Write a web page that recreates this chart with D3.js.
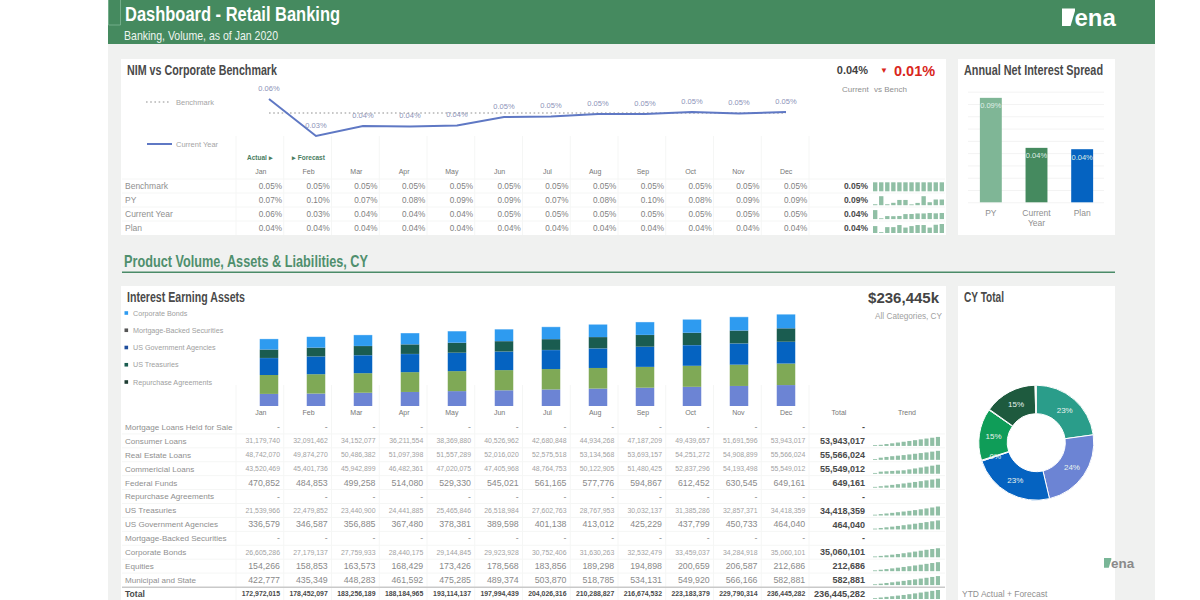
<!DOCTYPE html>
<html>
<head>
<meta charset="utf-8">
<script src="https://cdn.jsdelivr.net/npm/d3@7"></script>
<style>
  body { margin: 0; background: #fff; }
  text { font-family: "Liberation Sans", Arial, sans-serif; }
  .title { font-family: "Liberation Sans Narrow", "Liberation Sans", sans-serif; font-weight: 700; }
</style>
</head>
<body>
<div id="showBox"></div>
<script>
const months = ["Jan", "Feb", "Mar", "Apr", "May", "Jun", "Jul", "Aug", "Sep", "Oct", "Nov", "Dec"]

// NIM table, in percent
const benchmark = [0.05, 0.05, 0.05, 0.05, 0.05, 0.05, 0.05, 0.05, 0.05, 0.05, 0.05, 0.05]
const priorYear = [0.0705, 0.0985, 0.0705, 0.0755, 0.0855, 0.0855, 0.07, 0.0752, 0.0985, 0.0775, 0.087, 0.087]
const currentYear = [0.0608, 0.0323, 0.04, 0.0396, 0.0404, 0.0469, 0.0473, 0.0492, 0.0492, 0.0508, 0.0496, 0.0508]
const plan = [0.0421, 0.038, 0.0414, 0.0414, 0.0428, 0.0411, 0.0421, 0.0428, 0.0428, 0.0411, 0.043, 0.0435]
const nimLabels = ["Benchmark", "PY", "Current Year", "Plan"]
const nimTotals = [0.05, 0.09, 0.04, 0.04]

// annual spread
const spreadCategories = ["PY", "Current Year", "Plan"]
const spreadValues = [0.085, 0.0443, 0.0432]
const spreadLabels = ["0.09%", "0.04%", "0.04%"]
const spreadColors = ["#7fb696", "#458a5f", "#0563c1"]

// asset table
const mortgageHeld = [0, 0, 0, 0, 0, 0, 0, 0, 0, 0, 0, 0]
const consumerLoans = [31179740, 32091462, 34152077, 36211554, 38369880, 40526962, 42680848, 44934268, 47187209, 49439657, 51691596, 53943017]
const realEstateLoans = [48742070, 49874270, 50486382, 51097398, 51557289, 52016020, 52575518, 53134568, 53693157, 54251272, 54908899, 55566024]
const commercialLoans = [43520469, 45401736, 45942899, 46482361, 47020075, 47405968, 48764753, 50122905, 51480425, 52837296, 54193498, 55549012]
const federalFunds = [470852, 484853, 499258, 514080, 529330, 545021, 561165, 577776, 594867, 612452, 630545, 649161]
const repurchase = [0, 0, 0, 0, 0, 0, 0, 0, 0, 0, 0, 0]
const usTreasuries = [21539966, 22479852, 23440900, 24441885, 25465846, 26518984, 27602763, 28767953, 30032137, 31385286, 32857371, 34418359]
const usGovAgencies = [336579, 346587, 356885, 367480, 378381, 389598, 401138, 413012, 425229, 437799, 450733, 464040]
const mortgageBacked = [0, 0, 0, 0, 0, 0, 0, 0, 0, 0, 0, 0]
const corporateBonds = [26605286, 27179137, 27759933, 28440175, 29144845, 29923928, 30752406, 31630263, 32532479, 33459037, 34284918, 35060101]
const equities = [154266, 158853, 163573, 168429, 173426, 178568, 183856, 189298, 194898, 200659, 206587, 212686]
const municipal = [422777, 435349, 448283, 461592, 475285, 489374, 503870, 518785, 534131, 549920, 566166, 582881]
const totalRow = [172972015, 178452097, 183256189, 188184965, 193114137, 197994439, 204026316, 210288827, 216674532, 223183379, 229790314, 236445282]

const assetNames = ["Mortgage Loans Held for Sale", "Consumer Loans", "Real Estate Loans", "Commericial Loans", "Federal Funds", "Repurchase Agreements", "US Treasuries", "US Government Agencies", "Mortgage-Backed Securities", "Corporate Bonds", "Equities", "Municipal and State"]
const assetRows = [mortgageHeld, consumerLoans, realEstateLoans, commercialLoans, federalFunds, repurchase, usTreasuries, usGovAgencies, mortgageBacked, corporateBonds, equities, municipal]
const stackColors = ["#6c84d4", "#6c84d4", "#7fa956", "#0563c1", "#0563c1", "#1e3d33", "#1a5c50", "#1f4e9c", "#555555", "#2e9bf0", "#2e9bf0", "#2e9bf0"]
const donutColors = ["#6c84d4", "#2a9d8a", "#6c84d4", "#0563c1", "#0563c1", "#0f9d58", "#0f9d58", "#0f9d58", "#1e5a3e", "#1e5a3e", "#1e5a3e", "#1e5a3e"]

const legendNames = ["Corporate Bonds", "Mortgage-Backed Securities", "US Government Agencies", "US Treasuries", "Repurchase Agreements"]
const legendColors = ["#2e9bf0", "#555555", "#1f4e9c", "#1a5c50", "#1e3d33"]

const grey = "#8f8f8f"
const sparkColor = "#90bfa5"
const pct = v => d3.format(".2f")(v) + "%"
const num = d3.format(",d")

const svg = d3.select("#showBox").append("svg").attr("width", 1200).attr("height", 600).style("display", "block")

function rect(x, y, w, h, fill) {
    return svg.append("rect").attr("x", x).attr("y", y).attr("width", w).attr("height", h).attr("fill", fill)
}

function title(str, x, y, size, width, fill) {
    return svg.append("text").attr("class", "title").attr("x", x).attr("y", y).attr("dy", "0.35em")
        .attr("font-size", size).attr("fill", fill).attr("textLength", width).attr("lengthAdjust", "spacingAndGlyphs").text(str)
}

function label(str, x, y, size, fill, anchor = "start", weight = 400) {
    return svg.append("text").attr("x", x).attr("y", y).attr("dy", "0.35em").attr("font-size", size)
        .attr("fill", fill).attr("text-anchor", anchor).attr("font-weight", weight).text(str)
}

// page frame
rect(108, 0, 1047, 600, "#f0f1f0")
rect(108, 0, 1047, 44, "#458a5f")
svg.append("path").attr("d", "M108.5 0V25H120.5V0").attr("fill", "none").attr("stroke", "#7fb696").attr("stroke-width", 0.8)
rect(121, 59, 825, 176, "#fff")
rect(958, 59, 157, 176, "#fff")
rect(121, 286, 825, 314, "#fff")
rect(958, 286, 157, 314, "#fff")

title("Dashboard - Retail Banking", 125, 14, 20, 215, "#fff")
title("Banking, Volume, as of Jan 2020", 124, 35.5, 13, 154, "#eef5f0").style("font-weight", 400)
title("NIM vs Corporate Benchmark", 127, 70.5, 14, 150, "#4a4a4a")
title("Annual Net Interest Spread", 964, 70.5, 14, 139, "#4a4a4a")
title("Product Volume, Assets & Liabilities, CY", 124, 261, 17, 244, "#4f8f6d")
rect(122, 271.5, 993, 1.5, "#4a8b68")
title("Interest Earning Assets", 127, 297.5, 14, 118, "#4a4a4a")
title("CY Total", 964, 297.5, 14, 40, "#4a4a4a")

function logo(x, y, s, boxFill, textFill) {
    const g = svg.append("g").attr("transform", `translate(${x},${y}) scale(${s})`)
    g.append("path").attr("d", "M0 0H13V2.5L8.5 17.5H0Z").attr("fill", boxFill)
    g.append("text").attr("x", 12.5).attr("y", 17.5).attr("font-size", 24).attr("font-weight", 700).attr("fill", textFill).text("ena")
}
logo(1062, 8.5, 1, "#fff", "#fff")
logo(1104, 558, 0.56, "#79b697", "#8a8a8a")

// shared column scales
const col = d3.scaleBand().domain(months).range([236, 809])
const barX = d3.scalePoint().domain(months).range([269, 786])

function sparks(values, rowY, x0, x1, maxH) {
    const sx = d3.scaleBand().domain(months).range([x0, x1]).paddingInner(0.28)
    const ext = d3.extent(values)
    const sh = d3.scaleLinear().domain(ext).range(ext[0] === ext[1] ? [maxH, maxH] : [0.8, maxH])
    svg.append("g").selectAll("rect").data(values).join("rect")
        .attr("x", (d, i) => sx(months[i])).attr("width", sx.bandwidth())
        .attr("y", d => rowY + maxH / 2 + 0.5 - sh(d)).attr("height", d => sh(d))
        .attr("fill", sparkColor)
}

function gridLines(y0, y1, rows) {
    const g = svg.append("g").attr("stroke", "#f5f6f5").attr("stroke-width", 1)
    g.selectAll(".v").data(months.concat("end")).join("line").attr("class", "v")
        .attr("x1", d => d === "end" ? 809 : col(d)).attr("x2", d => d === "end" ? 809 : col(d))
        .attr("y1", y0).attr("y2", y1)
    g.selectAll(".h").data(rows).join("line").attr("class", "h")
        .attr("x1", 122).attr("x2", 945).attr("y1", d => d).attr("y2", d => d)
}

// NIM line chart
const yNim = d3.scaleLinear().domain([0.05, 0.03]).range([113, 139])
gridLines(136, 235, [179, 193, 207, 221])

svg.append("path").datum(benchmark)
    .attr("d", d3.line().x((d, i) => barX(months[i])).y(d => yNim(d)))
    .attr("fill", "none").attr("stroke", "#b5b5b5").attr("stroke-width", 1.4).attr("stroke-dasharray", "1.6 2.6")
svg.append("path").datum(currentYear)
    .attr("d", d3.line().x((d, i) => barX(months[i])).y(d => yNim(d)))
    .attr("fill", "none").attr("stroke", "#5f78c4").attr("stroke-width", 2)
svg.append("g").selectAll("text").data(currentYear).join("text")
    .attr("x", (d, i) => barX(months[i])).attr("y", d => yNim(d) - 11).attr("dy", "0.35em")
    .attr("text-anchor", "middle").attr("font-size", 7.5).attr("fill", "#8d93b8")
    .text(d => pct(d))

svg.append("line").attr("x1", 146).attr("x2", 171).attr("y1", 102).attr("y2", 102)
    .attr("stroke", "#b5b5b5").attr("stroke-width", 1.4).attr("stroke-dasharray", "1.6 2.6")
label("Benchmark", 176, 102, 7.5, "#a5a5a5")
svg.append("line").attr("x1", 147).attr("x2", 172).attr("y1", 144).attr("y2", 144)
    .attr("stroke", "#5f78c4").attr("stroke-width", 2)
label("Current Year", 176, 144, 7.5, "#a5a5a5")

label("Actual \u25B8", 247, 158, 6.5, "#4a7d5f", "start", 700)
label("\u25B8 Forecast", 292, 158, 6.5, "#4a7d5f", "start", 700)
label("0.04%", 868, 70.5, 11, "#3f3f3f", "end", 700)
label("\u25BC", 884, 70, 8, "#d9261c", "middle")
label("0.01%", 894, 70.5, 14.5, "#d9261c", "start", 700)
label("Current", 842, 89, 8, grey)
label("vs Bench", 874, 89, 8, grey)

months.forEach(m => label(m, col(m) + col.bandwidth() / 2 + 1, 172, 7, "#777", "middle"))

const nimRows = [benchmark, priorYear, currentYear, plan]
const nimY = d3.scalePoint().domain(nimLabels).range([186.3, 228])
nimRows.forEach((row, r) => {
    const y = nimY(nimLabels[r])
    label(nimLabels[r], 125, y, 8.5, grey)
    row.forEach((v, i) => label(pct(v), col(months[i]) + 46, y, 8.2, "#7f7f7f", "end"))
    label(pct(nimTotals[r]), 868, y, 8.5, "#4a4a4a", "end", 700)
    sparks(row, y, 873, 944, 9)
})

// annual spread bars
const spreadX = d3.scaleBand().domain(spreadCategories).range([968, 1105]).paddingInner(0.52).paddingOuter(0.26)
const spreadY = d3.scaleLinear().domain([0, 0.09]).range([202.3, 91.7])
svg.append("g").attr("transform", "translate(968,0)")
    .call(d3.axisRight(spreadY).tickValues(d3.range(0, 0.095, 0.01)).tickSize(136).tickFormat(""))
    .call(g => g.select(".domain").remove())
    .call(g => g.selectAll("line").attr("stroke", "#f3f3f3"))
svg.append("g").selectAll("rect").data(spreadValues).join("rect")
    .attr("x", (d, i) => spreadX(spreadCategories[i])).attr("width", spreadX.bandwidth())
    .attr("y", d => spreadY(d)).attr("height", d => spreadY(0) - spreadY(d))
    .attr("fill", (d, i) => spreadColors[i])
svg.append("g").selectAll("text").data(spreadValues).join("text")
    .attr("x", (d, i) => spreadX(spreadCategories[i]) + spreadX.bandwidth() / 2)
    .attr("y", d => spreadY(d) + 8).attr("dy", "0.35em").attr("text-anchor", "middle")
    .attr("font-size", 7.5).attr("fill", "#dfeee6").text((d, i) => spreadLabels[i])
spreadCategories.forEach(c => {
    const parts = c.split(" ")
    parts.forEach((p, i) => label(p, spreadX(c) + spreadX.bandwidth() / 2, 213.5 + i * 10, 8.5, grey, "middle"))
})

// stacked bars of the asset rows
const stackRows = months.map((m, i) => {
    const o = { month: m }
    assetNames.forEach((n, k) => o[n] = assetRows[k][i])
    return o
})
const series = d3.stack().keys(assetNames)(stackRows)
const yAssets = d3.scaleLinear().domain([0, d3.max(totalRow)]).range([406, 314.3])
const barW = 18.5
svg.append("g").selectAll("g").data(series).join("g")
    .attr("fill", (d, i) => stackColors[i])
    .selectAll("rect").data(d => d).join("rect")
    .attr("x", d => barX(d.data.month) - barW / 2).attr("width", barW)
    .attr("y", d => yAssets(d[1])).attr("height", d => yAssets(d[0]) - yAssets(d[1]))

const legendY = d3.scalePoint().domain(legendNames).range([313, 382])
legendNames.forEach((n, i) => {
    rect(124.5, legendY(n) - 1.8, 3.6, 3.6, legendColors[i])
    label(n, 133, legendY(n), 7.2, "#a0a0a0")
})

// asset table
const rowY = d3.scaleLinear().domain([0, 12]).range([427, 594])
gridLines(385, 600, d3.range(1, 12).map(i => rowY(i) - 7))
rect(122, 586.5, 823, 1.5, "#c9c9c9")
months.forEach(m => label(m, col(m) + col.bandwidth() / 2 + 1, 413, 7, "#777", "middle"))
label("Total", 839, 413, 7, "#777", "middle")
label("Trend", 907, 413, 7, "#777", "middle")

assetRows.forEach((row, r) => {
    const y = rowY(r)
    label(assetNames[r], 125, y, 8.1, grey)
    const total = row[row.length - 1]
    row.forEach((v, i) => {
        const big = v >= 1e7
        label(v ? num(v) : "-", col(months[i]) + 44, y, big ? 6.9 : 8.8, big ? "#a2a2a2" : "#8a8a8a", "end")
    })
    label(total ? num(total) : "-", 865, y, 9, "#4a4a4a", "end", 700)
    if (total) sparks(row, y, 873, 940, 9)
})

label("Total", 125, rowY(12), 8.6, "#4a4a4a", "start", 700)
totalRow.forEach((v, i) => label(num(v), col(months[i]) + 44, rowY(12), 6.9, "#4a4a4a", "end", 700))
label(num(totalRow[11]), 865, rowY(12), 9.2, "#4a4a4a", "end", 700)
sparks(totalRow, rowY(12), 873, 940, 9)

label("$236,445k", 939, 297.5, 15, "#444", "end", 700)
label("All Categories, CY", 942, 316, 8.2, "#a0a0a0", "end")

// donut of the december column
const donutData = assetRows.map((row, k) => ({ name: assetNames[k], value: row[11], k }))
const pie = d3.pie().value(d => d.value).sort(null)
const arc = d3.arc().innerRadius(29).outerRadius(57.5)
const donut = svg.append("g").attr("transform", "translate(1036.3,442.7)")
const arcs = pie(donutData)
donut.selectAll("path").data(arcs).join("path")
    .attr("d", arc).attr("fill", d => donutColors[d.data.k]).attr("stroke", "#fff").attr("stroke-width", 1)
donut.selectAll("text").data(arcs.filter(d => d.data.value > 6e5)).join("text")
    .attr("transform", d => `translate(${arc.centroid(d)})`).attr("dy", "0.35em")
    .attr("text-anchor", "middle").attr("font-size", 8).attr("fill", "#e8f3ee")
    .text(d => d3.format(".0%")(d.data.value / d3.sum(donutData, e => e.value)))

label("YTD Actual + Forecast", 962, 594, 8.5, grey)
</script>
</body>
</html>
